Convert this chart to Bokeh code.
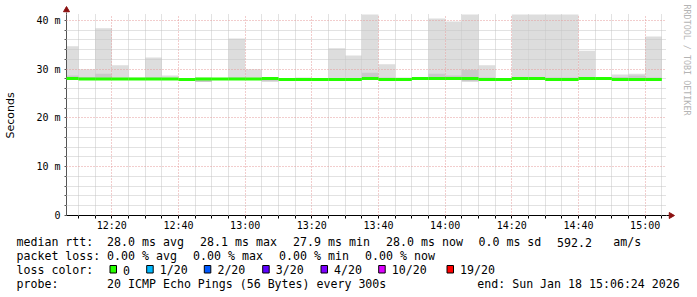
import pandas as pd
from bokeh.plotting import figure
from bokeh.models import (Range1d, FixedTicker, DatetimeTickFormatter, CustomJSTickFormatter,
                          ColumnDataSource)
from bokeh.core.properties import value
from bokeh.embed import file_html
from bokeh.resources import INLINE

# ---------------- data ----------------
day = "2026-01-18"
range_start = "12:06:24"
range_end = "15:06:24"
step_minutes = 5

bin_start = ["12:05", "12:10", "12:15", "12:20", "12:25", "12:30", "12:35", "12:40", "12:45",
             "12:50", "12:55", "13:00", "13:05", "13:10", "13:15", "13:20", "13:25", "13:30",
             "13:35", "13:40", "13:45", "13:50", "13:55", "14:00", "14:05", "14:10", "14:15",
             "14:20", "14:25", "14:30", "14:35", "14:40", "14:45", "14:50", "14:55", "15:00"]
# smoke (ms): max ping, min ping, inner (darker) band top
smoke_max = [34.7, 30.0, 38.4, 30.8, 28.3, 32.4, 28.7, 27.9, 28.3,
             28.0, 36.3, 30.0, 28.1, 27.9, 28.3, 28.1, 34.3, 32.8,
             41.5, 31.0, 28.3, 28.0, 40.4, 39.8, 41.5, 30.8, 28.1,
             41.5, 41.5, 41.5, 41.5, 33.8, 28.0, 28.9, 29.1, 36.7]
smoke_min = [27.8, 27.8, 27.8, 27.8, 27.8, 27.8, 27.8, 27.8, 27.4,
             27.8, 27.8, 27.8, 27.5, 27.8, 27.7, 27.8, 27.8, 27.8,
             27.8, 27.8, 27.8, 27.8, 27.8, 27.8, 27.5, 27.8, 27.6,
             27.8, 27.8, 27.8, 27.8, 27.8, 27.8, 27.8, 27.8, 27.8]
smoke_core = [28.7, 28.4, 29.1, 28.2, 28.0, 28.3, 28.0, 27.9, 28.0,
              28.0, 28.3, 28.2, 28.0, 27.9, 28.1, 28.0, 28.2, 28.2,
              29.3, 28.3, 28.0, 28.0, 29.1, 28.7, 29.9, 28.3, 28.0,
              28.3, 28.3, 28.3, 28.3, 28.3, 28.0, 28.4, 28.7, 28.3]
median_rtt = [28.1, 28.0, 28.0, 28.0, 28.0, 28.0, 28.0, 27.9, 28.0,
              28.0, 28.0, 28.0, 28.1, 27.9, 27.9, 27.9, 27.9, 27.9,
              28.1, 27.9, 27.9, 28.1, 28.1, 28.1, 28.1, 27.9, 27.9,
              28.1, 28.1, 27.9, 27.9, 28.1, 28.1, 27.9, 27.9, 27.9]

x_tick_labels = ["12:20", "12:40", "13:00", "13:20", "13:40", "14:00", "14:20", "14:40", "15:00"]
y_ticks = [0, 10, 20, 30, 40]
y_minor_step = 2
y_top = 41.23

loss_labels = ["0", "1/20", "2/20", "3/20", "4/20", "10/20", "19/20"]
loss_colors = ["#26ff00", "#00b8ff", "#0059ff", "#5e00ff", "#7e00ff", "#dd00ff", "#ff0000"]

rtt_legend = ["28.0 ms avg", "28.1 ms max", "27.9 ms min", "28.0 ms now", "0.0 ms sd", "592.2", "am/s"]
loss_legend = ["0.00 % avg", "0.00 % max", "0.00 % min", "0.00 % now"]
probe_text = "20 ICMP Echo Pings (56 Bytes) every 300s"
end_text = "end: Sun Jan 18 15:06:24 2026"

# ---------------- layout ----------------
W, H = 697, 297
FL, FR, FT, FB = 66, 666, 14, 215   # frame edges (canvas px)
MONO = "DejaVu Sans Mono"
LEG_SIZE = "11.6px"

def ts(hm):
    return pd.Timestamp(f"{day} {hm}")

def ms(t):
    return t.value / 1e6

t0, t1 = ts(range_start), ts(range_end)
starts = [max(ts(s), t0) for s in bin_start]
ends = [ts(s) + pd.Timedelta(minutes=step_minutes) for s in bin_start]

src = ColumnDataSource(dict(left=starts, right=ends, top=smoke_max, bottom=smoke_min,
                            core=smoke_core, med=median_rtt))

p = figure(width=W, height=H, x_axis_type="datetime",
           x_range=Range1d(ms(t0), ms(t1)), y_range=Range1d(0, y_top),
           output_backend="svg", toolbar_location=None,
           min_border_left=FL, min_border_right=W - FR, min_border_top=FT, min_border_bottom=H - FB)
# canvas-pixel coordinate system for decorations outside the frame
p.extra_x_ranges = {"px": Range1d(FL, FR)}
p.extra_y_ranges = {"px": Range1d(FB, FT)}
p.outline_line_color = None
p.background_fill_color = "white"
p.border_fill_color = "white"

# smoke
p.quad(left="left", right="right", top="top", bottom="bottom", source=src,
       fill_color="#dddddd", line_color=None)
p.quad(left="left", right="right", top="core", bottom="bottom", source=src,
       fill_color="#c9c9c9", line_color=None)
# median
p.segment(x0="left", y0="med", x1="right", y1="med", source=src,
          line_color=loss_colors[0], line_width=3, level="overlay")

# ticks
major_x = [ms(ts(s)) for s in x_tick_labels]
all_x = [ms(t) for t in pd.date_range(ts("12:10"), ts("15:05"), freq=f"{step_minutes}min")]
minor_x = [v for v in all_x if v not in major_x]
xt = FixedTicker(ticks=major_x, minor_ticks=minor_x)
minor_y = [v for v in range(0, int(y_top) + 1, y_minor_step) if v not in y_ticks]
yt = FixedTicker(ticks=y_ticks, minor_ticks=minor_y)

xa = p.xaxis[0]
xa.ticker = xt
fmt = "%H:%M"
xa.formatter = DatetimeTickFormatter(microseconds=fmt, milliseconds=fmt, seconds=fmt, minsec=fmt,
                                     minutes=fmt, hourmin=fmt, hours=fmt, days=fmt, months=fmt, years=fmt)
xa.axis_line_color = "black"
xa.major_tick_line_color = "black"
xa.minor_tick_line_color = "black"
xa.major_tick_in = 0
xa.major_tick_out = 3
xa.minor_tick_in = 0
xa.minor_tick_out = 3
xa.major_label_standoff = 1
xa.major_label_text_font = MONO
xa.major_label_text_font_size = "10px"
xa.major_label_text_color = "black"

ya = p.yaxis[0]
ya.ticker = yt
ya.formatter = CustomJSTickFormatter(code="return tick == 0 ? '0' : tick.toFixed(0) + ' m';")
ya.axis_line_color = "#555555"
ya.major_tick_line_color = "#555555"
ya.minor_tick_line_color = "#555555"
ya.major_tick_in = 0
ya.major_tick_out = 2
ya.minor_tick_in = 0
ya.minor_tick_out = 2
ya.major_label_standoff = 4
ya.major_label_text_font = MONO
ya.major_label_text_font_size = "10px"
ya.major_label_text_color = "black"

for g, tk in ((p.xgrid[0], xt), (p.ygrid[0], yt)):
    g.ticker = tk
    g.grid_line_color = "#e59a9a"
    g.grid_line_dash = "1 2"
    g.minor_grid_line_color = "#c4c4c4"
    g.minor_grid_line_dash = "1 1"
    g.level = "guide"

PX = dict(x_range_name="px", y_range_name="px", level="overlay")

# axis extensions and arrow heads
p.segment(x0=[FL, FR], y0=[FT, FB], x1=[FL, FR + 3], y1=[FT - 2, FB],
          line_color=["#555555", "black"], line_width=1, **PX)
p.scatter(x=[FL, FR + 4.5], y=[FT - 4.5, FB], marker="triangle", size=6,
          angle=[0, -1.5707963], fill_color="#8b1010", line_color="#8b1010", **PX)

# ---------------- texts outside the frame ----------------
def label(text, x, y, size=LEG_SIZE, font=MONO, color="black", angle=0,
          align="left", baseline="alphabetic"):
    p.text(x=[x], y=[y], text=[text], text_font=value(font), text_font_size=value(size),
           text_color=color, angle=angle, text_align=align, text_baseline=baseline, **PX)

label("Seconds", 10, 115, size="11px", font="DejaVu Sans", angle=1.5707963,
      align="center", baseline="middle")
label("RRDTOOL / TOBI OETIKER", 686, 59.5, size="8.4px", color="#b4b4b4", angle=-1.5707963,
      align="center", baseline="middle")

row_y = [241.8, 255.7, 269.6, 283.5]
label("median rtt:", 16, row_y[0])
rtt_x = [106.6, 199.6, 292.6, 385.6, 478.0, 556.6, 612.8]
for s, x in zip(rtt_legend, rtt_x):
    label(s, x, row_y[0])

label("packet loss:", 16, row_y[1])
loss_x = [106.6, 192.6, 278.6, 364.6]
for s, x in zip(loss_legend, loss_x):
    label(s, x, row_y[1])

label("loss color:", 16, row_y[2])
box_x = [109, 145.7, 203.3, 261.7, 320, 377.7, 446]
p.quad(left=[x + 0.5 for x in box_x], right=[x + 7.0 for x in box_x],
       top=[265.0] * len(box_x), bottom=[272.5] * len(box_x),
       fill_color=loss_colors, line_color="black", line_width=1, **PX)
for s, x in zip(loss_labels, box_x):
    label(s, x + 13.6, row_y[2])

label("probe:", 16, row_y[3])
label(probe_text, 106.6, row_y[3])
label(end_text, 476.8, row_y[3])

open("out.html", "w").write(file_html(p, INLINE))
